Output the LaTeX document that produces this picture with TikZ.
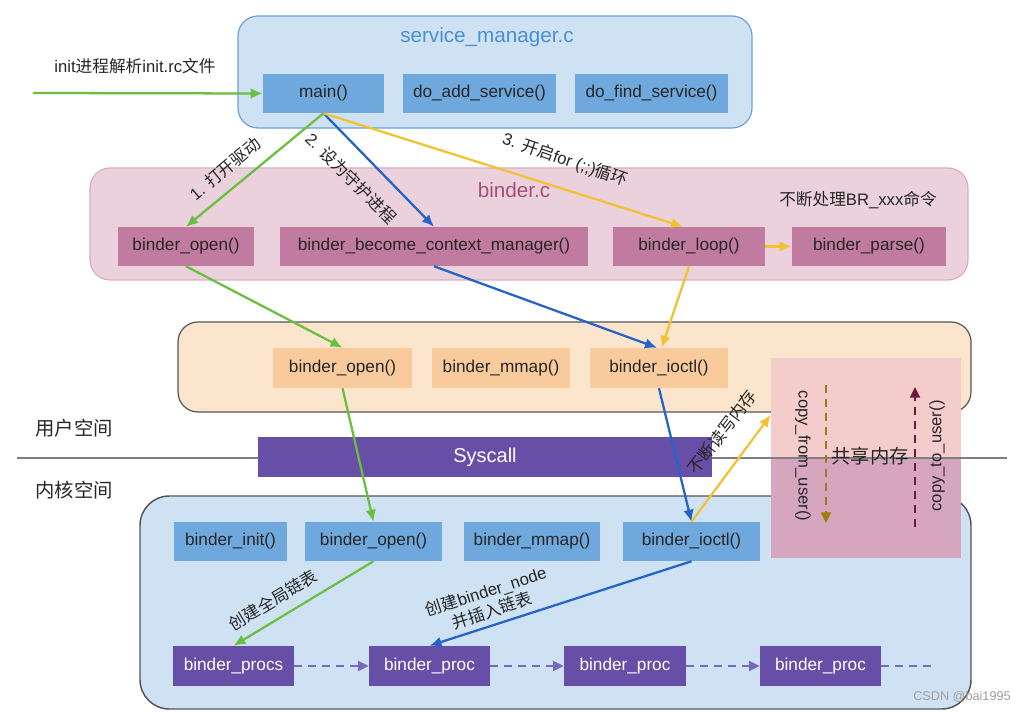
\documentclass[tikz,border=0pt]{standalone}
\usepackage{fontspec}
\setmainfont{Liberation Sans}
\newfontfamily\cjk{Noto Sans CJK SC}
\usetikzlibrary{arrows.meta,calc}
\definecolor{lblue}{HTML}{CFE2F3}
\definecolor{mblue}{HTML}{6FA8DC}
\definecolor{smborder}{HTML}{6A9FD8}
\definecolor{titleblue}{HTML}{4A8FD4}
\definecolor{lpink}{HTML}{EAD1DC}
\definecolor{pinkborder}{HTML}{D8AFC4}
\definecolor{mauve}{HTML}{C27BA0}
\definecolor{titlemauve}{HTML}{A64D79}
\definecolor{lpeach}{HTML}{FCE5CD}
\definecolor{peach}{HTML}{F9CB9C}
\definecolor{purp}{HTML}{674EA7}
\definecolor{dpurp}{HTML}{7B68B8}
\definecolor{agreen}{HTML}{6ABF40}
\definecolor{ablue}{HTML}{2563C8}
\definecolor{ayellow}{HTML}{F1C232}
\definecolor{shmtop}{HTML}{F4CCCC}
\definecolor{shmbot}{HTML}{D5A6BD}
\definecolor{darrbrown}{HTML}{A07A10}
\definecolor{darrmaroon}{HTML}{6B1A3C}
\definecolor{frame}{HTML}{555555}
\definecolor{txt}{HTML}{262626}
\tikzset{
  fn/.style={inner sep=0pt, minimum height=29.25pt, font=\fontsize{12.9}{15}\selectfont, text=txt},
  bw/.style={minimum width={0.75pt*#1}},
  smfn/.style={fn, fill=mblue},
  bfn/.style={fn, fill=mauve},
  ufn/.style={fn, fill=peach, minimum height=30pt},
  kfn/.style={fn, fill=mblue},
  pfn/.style={fn, fill=purp, text=white, minimum height=30pt},
  arr/.style={line width=1.7pt, -{Latex[length=9pt,width=8pt]}},
  darr/.style={line width=1.5pt, dash pattern=on 6pt off 4.5pt, -{Triangle[length=8pt,width=7.5pt]}},
  lbl/.style={font=\fontsize{12.5}{15}\selectfont, text=txt, inner sep=1pt},
  big/.style={font=\fontsize{14.5}{17}\selectfont, text=txt, inner sep=1pt},
  title/.style={font=\fontsize{15.5}{18}\selectfont, inner sep=1pt},
  container/.style={line width=0.9pt, rounded corners=15pt},
}
\begin{document}
\begin{tikzpicture}[x=0.75pt,y=-0.75pt]
\useasboundingbox (0,0) rectangle (1024,712);
\fill[white] (0,0) rectangle (1024,712);

% containers
\draw[container, draw=smborder, fill=lblue] (238,16) rectangle (752,128);
\draw[container, draw=pinkborder, fill=lpink] (90,168) rectangle (968,280);
\draw[container, draw=frame, fill=lpeach] (178,322) rectangle (971,412);
\draw[container, draw=frame, fill=lblue, rounded corners=22pt, line width=1.1pt] (140,496) rectangle (971,709);

% divider
\draw[gray, line width=0.8pt] (17,458) -- (258,458);

% service_manager.c
\node[title, text=titleblue] (smtitle) at (487,37) {service\_manager.c};
\node[smfn, bw=121] (main) at (323.5,93.5) {main()};
\node[smfn, bw=153] (doadd) at (479.5,93.5) {do\_add\_service()};
\node[smfn, bw=153] (dofind) at (651.5,93.5) {do\_find\_service()};

% binder.c
\node[title, text=titlemauve] (bctitle) at (514,190) {binder.c};
\node[lbl] (brlbl) at (858,200) {{\cjk 不断处理}BR\_xxx{\cjk 命令}};
\node[bfn, bw=136] (bopen) at (186,246.5) {binder\_open()};
\node[bfn, bw=308] (bcm) at (434,246.5) {binder\_become\_context\_manager()};
\node[bfn, bw=152] (bloop) at (689,246.5) {binder\_loop()};
\node[bfn, bw=154] (bparse) at (869,246.5) {binder\_parse()};

% user space
\node[ufn, bw=139] (uopen) at (342.5,368) {binder\_open()};
\node[ufn, bw=138] (ummap) at (501,368) {binder\_mmap()};
\node[ufn, bw=138] (uioctl) at (659,368) {binder\_ioctl()};

\node[big] (userlbl) at (74,428) {\cjk 用户空间};
\node[big] (kernlbl) at (74,490) {\cjk 内核空间};

% syscall
\node[fill=purp, inner sep=0pt, minimum width={0.75pt*454}, minimum height=30pt,
      text=white, font=\fontsize{15}{18}\selectfont] (sys) at (485,457) {Syscall};

% kernel
\node[kfn, bw=113] (kinit) at (230.5,541.5) {binder\_init()};
\node[kfn, bw=137] (kopen) at (373.5,541.5) {binder\_open()};
\node[kfn, bw=136] (kmmap) at (532,541.5) {binder\_mmap()};
\node[kfn, bw=137] (kioctl) at (691.5,541.5) {binder\_ioctl()};

\node[pfn, bw=121] (procs) at (233.5,666) {binder\_procs};
\node[pfn, bw=121] (proca) at (429.5,666) {binder\_proc};
\node[pfn, bw=122] (procb) at (625,666) {binder\_proc};
\node[pfn, bw=121] (procc) at (820.5,666) {binder\_proc};
\coordinate (procend) at (935,666);

\draw[darr, dpurp] (procs.east) -- (proca.west);
\draw[darr, dpurp] (proca.east) -- (procb.west);
\draw[darr, dpurp] (procb.east) -- (procc.west);
\draw[dpurp, line width=1.5pt, dash pattern=on 6pt off 4.5pt] (procc.east) -- (procend);

% shared memory
\node[fill=shmtop, inner sep=0pt, minimum width=142.5pt, minimum height=150pt] (shm) at (866,458) {};
\fill[shmbot] (shm.west) rectangle (shm.south east);
\draw[gray, line width=0.8pt] (712,458) -- (1007,458);
\node[big] (shmlbl) at (870,456) {\cjk 共享内存};
\node[lbl, rotate=-90] (cfu) at (803,456) {copy\_from\_user()};
\node[lbl, rotate=90] (ctu) at (937,456) {copy\_to\_user()};
\coordinate (cfa) at (826,385);
\coordinate (cfb) at (826,523);
\coordinate (cta) at (915,527);
\coordinate (ctb) at (915,387);
\draw[darr, darrbrown] (cfa) -- (cfb);
\draw[darr, darrmaroon] (cta) -- (ctb);

% arrows
\coordinate (initstart) at (33,93);
\draw[arr, agreen] (initstart) -- (main.west);
\node[lbl] (initlbl) at (135,66) {init{\cjk 进程解析}init.rc{\cjk 文件}};

\draw[arr, agreen] (main.south) -- (bopen.north);
\draw[arr, ablue] (main.south) -- (bcm.north);
\draw[arr, ayellow] (main.south) -- ([xshift=-4.5pt]bloop.north);
\draw[arr, ayellow] (bloop.east) -- (bparse.west);

\node[lbl, rotate=40] (l1) at (225,169) {1. {\cjk 打开驱动}};
\node[lbl, rotate=-45] (l2) at (351,178) {2. {\cjk 设为守护进程}};
\node[lbl, rotate=-19] (l3) at (565,160) {3. {\cjk 开启}for (;;){\cjk 循环}};

\draw[arr, agreen] (bopen.south) -- (uopen.north);
\draw[arr, ablue] (bcm.south) -- ([xshift=-1.5pt]uioctl.north);
\draw[arr, ayellow] (bloop.south) -- ([xshift=2pt]uioctl.north);

\draw[arr, agreen] (uopen.south) -- (kopen.north);
\draw[arr, ablue] (uioctl.south) -- (kioctl.north);
\draw[arr, ayellow] (kioctl.north) -- ($(shm.north west)!0.285!(shm.south west)$);
\node[lbl, rotate=53] (l4) at (722,432) {\cjk 不断读写内存};

\draw[arr, agreen] (kopen.south) -- (procs.north);
\draw[arr, ablue] (kioctl.south) -- (proca.north);
\node[lbl, rotate=31] (l5) at (273,600) {\cjk 创建全局链表};
\node[lbl, rotate=18, align=center] (l6) at (489,601) {{\cjk 创建}binder\_node\\{\cjk 并插入链表}};

\node[font=\fontsize{9.5}{11}\selectfont, text=gray!75] (wm) at (962,697) {CSDN @bai1995};
\end{tikzpicture}
\end{document}
